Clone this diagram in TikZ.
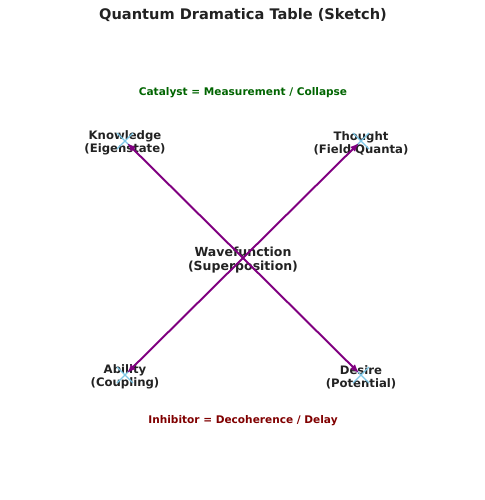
\documentclass[tikz,border=0pt]{standalone}
\usepackage{fontspec}
\setmainfont{DejaVu Sans}
\usetikzlibrary{arrows.meta}
\definecolor{qpurple}{HTML}{800080}
\definecolor{qgreen}{HTML}{006400}
\definecolor{qred}{HTML}{800000}
\definecolor{qsky}{HTML}{7EC8E8}
\definecolor{qtext}{HTML}{222222}
\begin{document}
\begin{tikzpicture}[x=0.72pt, y=-0.72pt,
    corner/.style={font=\bfseries\fontsize{8.4}{9.4}\selectfont, align=center, text=qtext, inner sep=0pt},
    qcross/.style={draw=qsky, line width=0.8pt},
    link/.style={draw=qpurple, line width=1.4pt, -{Latex[length=6.5pt,width=5pt]}, shorten >=2pt}]
  \useasboundingbox (0,0) rectangle (485,500);

  % title and notes
  \node[font=\bfseries\fontsize{10.5}{12}\selectfont, text=qtext] at (243,15.5) (title) {Quantum Dramatica Table (Sketch)};
  \node[font=\bfseries\fontsize{7.6}{9}\selectfont, text=qgreen] at (243,92.5) (catalyst) {Catalyst = Measurement / Collapse};
  \node[font=\bfseries\fontsize{7.6}{9}\selectfont, text=qred] at (243,420.5) (inhibitor) {Inhibitor = Decoherence / Delay};

  % corner points
  \coordinate (wave) at (243,258);
  \coordinate (know) at (125,141);
  \coordinate (thought) at (361,141);
  \coordinate (ability) at (125,375);
  \coordinate (desire) at (361,375);

  \node[corner] at ([yshift=-1.5]know) (knowledge) {Knowledge\\(Eigenstate)};
  \node[corner] at ([yshift=-1.5]thought) (thoughtlabel) {Thought\\(Field Quanta)};
  \node[corner] at ([yshift=-1.5]ability) (abilitylabel) {Ability\\(Coupling)};
  \node[corner] at ([yshift=-1.5]desire) (desirelabel) {Desire\\(Potential)};
  \node[corner, font=\bfseries\fontsize{9}{10.6}\selectfont] at ([yshift=-1.5]wave) (wavefunction) {Wavefunction\\(Superposition)};

  % markers
  \foreach \p in {know, thought, ability, desire}
    \draw[qcross] ([shift={(-8,-8)}]\p) -- ([shift={(8,8)}]\p)
                  ([shift={(-8,8)}]\p) -- ([shift={(8,-8)}]\p);

  \draw[link] (wave) -- (know);
  \draw[link] (wave) -- (thought);
  \draw[link] (wave) -- (ability);
  \draw[link] (wave) -- (desire);
\end{tikzpicture}
\end{document}
